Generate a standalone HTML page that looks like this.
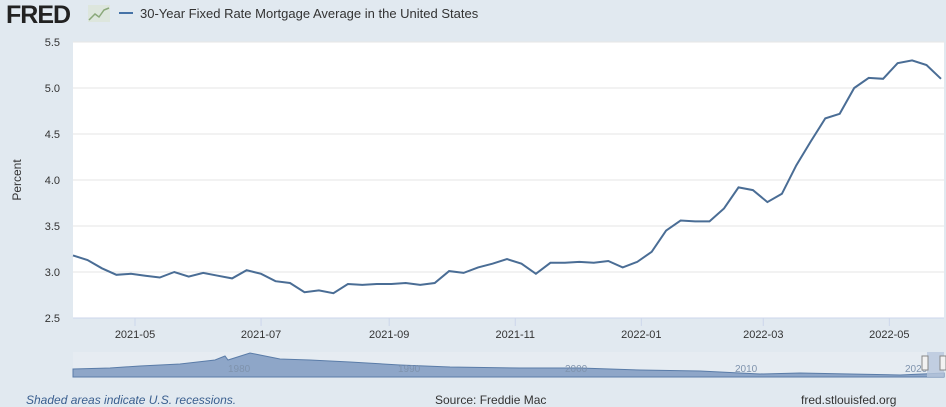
<!DOCTYPE html>
<html><head><meta charset="utf-8"><style>
body{margin:0;width:946px;height:407px;background:#e1e9f0;font-family:"Liberation Sans",sans-serif;overflow:hidden}
</style></head><body>
<svg width="946" height="407" style="position:absolute;left:0;top:0">
<text x="6" y="23" font-size="25" font-weight="bold" fill="#222" font-family="Liberation Sans" letter-spacing="-1">FRED</text>
<g><rect x="88" y="5" width="22" height="17" fill="#dde6dd"/><polyline points="89,20 95,14 99,17 104,10 109,8" fill="none" stroke="#8aa87a" stroke-width="1.5"/></g>
<line x1="119" y1="13" x2="133" y2="13" stroke="#4572a7" stroke-width="2"/>
<text x="140" y="18" font-size="13" fill="#333">30-Year Fixed Rate Mortgage Average in the United States</text>
<rect x="73" y="42" width="871" height="276" fill="#fff"/>
<g id="grid"></g>
<g id="yt"></g>
<g id="xt"></g>
<text transform="translate(21,180) rotate(-90)" font-size="12" fill="#333" text-anchor="middle">Percent</text>
<path id="line" fill="none" stroke="#4a6d95" stroke-width="2"/>
<g>
<rect x="73" y="352" width="871" height="25" fill="#e6ecf2"/>
<path d="M73,369 L110,368 L140,366 L180,364 L215,360 L225,356 L228,360 L250,353 L260,355 L280,359 L310,360 L350,362 L400,365 L450,367 L520,368 L580,368 L640,370 L700,371 L760,374 L800,373 L850,374 L900,375 L944,373 L944,377 L73,377Z" fill="#8ea6c8" stroke="#5a7ca8" stroke-width="1"/>
<text x="228" y="372" font-size="10" fill="#7f93ad">1980</text><text x="398" y="372" font-size="10" fill="#7f93ad">1990</text><text x="565" y="372" font-size="10" fill="#7f93ad">2000</text><text x="735" y="372" font-size="10" fill="#7f93ad">2010</text><text x="905" y="372" font-size="10" fill="#7f93ad">2020</text>
<rect x="927" y="352" width="17" height="25" fill="#b8c7dc" opacity="0.8"/>
<rect x="922" y="356" width="6" height="14" fill="#f2f2f2" stroke="#888"/><rect x="940" y="356" width="6" height="14" fill="#f2f2f2" stroke="#888"/>
</g>
<text x="26" y="404" font-size="12" font-style="italic" fill="#3a5f8f">Shaded areas indicate U.S. recessions.</text>
<text x="435" y="404" font-size="12" fill="#333">Source: Freddie Mac</text>
<text x="801" y="404" font-size="12" fill="#333">fred.stlouisfed.org</text>
</svg>
<script>
const startDate = "2021-04-01";
const values = [3.18,3.13,3.04,2.97,2.98,2.96,2.94,3.00,2.95,2.99,2.96,2.93,3.02,2.98,2.90,2.88,2.78,2.80,2.77,2.87,2.86,2.87,2.87,2.88,2.86,2.88,3.01,2.99,3.05,3.09,3.14,3.09,2.98,3.10,3.10,3.11,3.10,3.12,3.05,3.11,3.22,3.45,3.56,3.55,3.55,3.69,3.92,3.89,3.76,3.85,4.16,4.42,4.67,4.72,5.00,5.11,5.10,5.27,5.30,5.25,5.10];
const yTicks = [2.5,3.0,3.5,4.0,4.5,5.0,5.5];
const xTicks = ["2021-05","2021-07","2021-09","2021-11","2022-01","2022-03","2022-05"];
const NS="http://www.w3.org/2000/svg";
const t0=Date.parse("2021-04-01"), t1=Date.parse("2022-05-26");
const x=t=>73+(t-t0)/(t1-t0)*868;
const y=v=>318-(v-2.5)/3*276;
const grid=document.getElementById('grid'),yt=document.getElementById('yt'),xt=document.getElementById('xt');
yTicks.forEach(v=>{
 const l=document.createElementNS(NS,'line');
 l.setAttribute('x1',73);l.setAttribute('x2',944);l.setAttribute('y1',y(v));l.setAttribute('y2',y(v));
 l.setAttribute('stroke','#e6e6e6');
 
 
 grid.appendChild(l);
 const t=document.createElementNS(NS,'text');
 t.setAttribute('x',60);t.setAttribute('y',y(v)+4);t.setAttribute('text-anchor','end');t.setAttribute('font-size','11');t.setAttribute('fill','#333');
 t.textContent=v.toFixed(1);
 
 
 yt.appendChild(t);
});
xTicks.forEach(s=>{
 const xx=x(Date.parse(s+"-01"));
 const l=document.createElementNS(NS,'line');
 l.setAttribute('x1',xx);l.setAttribute('x2',xx);l.setAttribute('y1',318);l.setAttribute('y2',326);l.setAttribute('stroke','#ccd6eb');
 
 
 xt.appendChild(l);
 const t=document.createElementNS(NS,'text');
 t.setAttribute('x',xx);t.setAttribute('y',338);t.setAttribute('text-anchor','middle');t.setAttribute('font-size','11');t.setAttribute('fill','#333');
 t.textContent=s;
 
 
 xt.appendChild(t);
});
const bl=document.createElementNS(NS,'line');
bl.setAttribute('x1',73);bl.setAttribute('x2',944);bl.setAttribute('y1',318);bl.setAttribute('y2',318);bl.setAttribute('stroke','#ccd6eb');


xt.appendChild(bl);
const s0=Date.parse(startDate);
document.getElementById('line').setAttribute('d',values.map((v,i)=>(i?'L':'M')+x(s0+i*7*864e5).toFixed(1)+','+y(v).toFixed(1)).join(' '));
</script>
</body></html>
